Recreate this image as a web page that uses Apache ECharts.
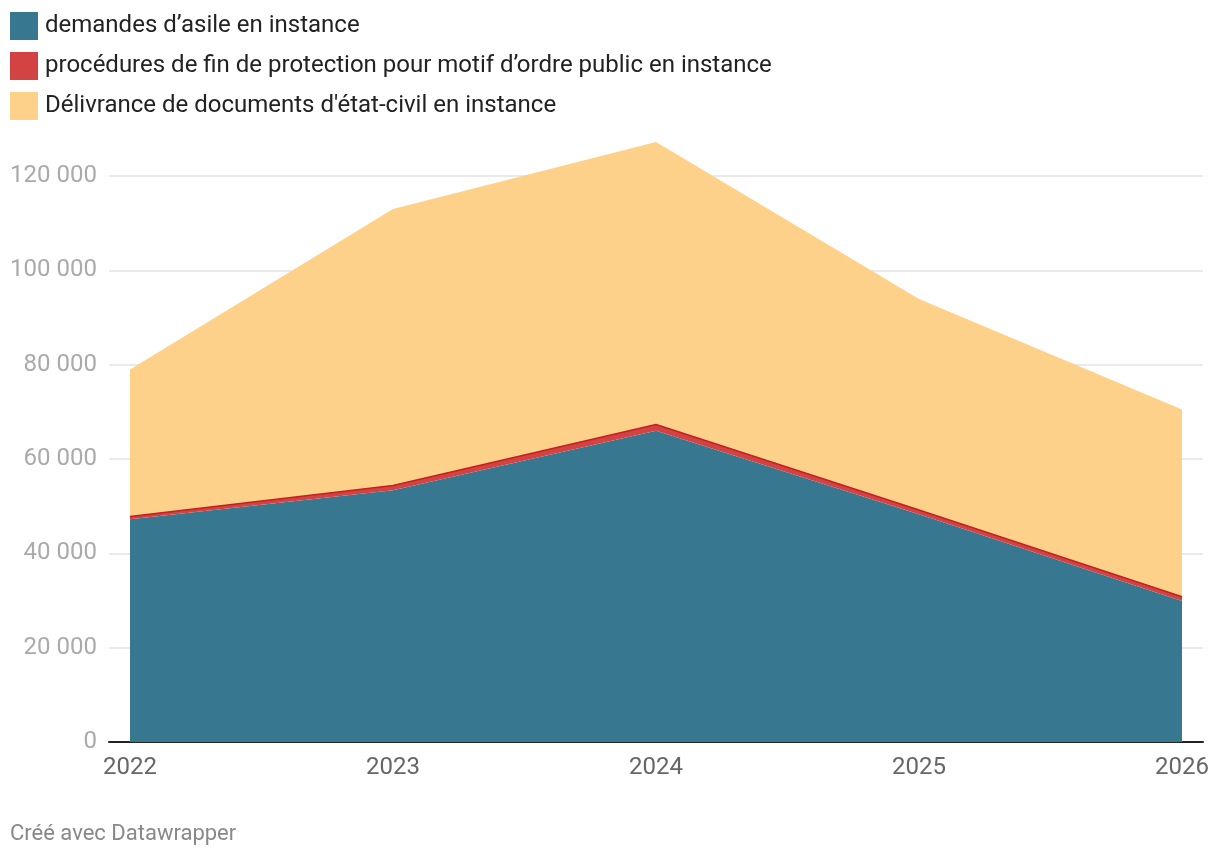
<!DOCTYPE html>
<html>
<head>
<meta charset="utf-8">
<script src="https://cdn.jsdelivr.net/npm/echarts@6/dist/echarts.min.js"></script>
<style>
html,body{margin:0;padding:0;background:#fff;}
#c{width:1220px;height:860px;}
</style>
</head>
<body>
<div id="c"></div>
<script>
const years = ['2022', '2023', '2024', '2025', '2026'];
const asile = [47200, 53400, 66000, 48300, 29900];
const finProtection = [600, 1000, 1300, 900, 900];
const etatCivil = [31200, 58600, 59900, 44700, 39700];
const yTicks = [0, 20000, 40000, 60000, 80000, 100000, 120000];

const names = [
  'demandes d\u2019asile en instance',
  'procédures de fin de protection pour motif d\u2019ordre public en instance',
  'Délivrance de documents d\'état-civil en instance'
];

const chart = echarts.init(document.getElementById('c'));
const font = 'Roboto, "Noto Sans", sans-serif';
const fmt = v => String(v).replace(/\B(?=(\d{3})+(?!\d))/g, ' ');

chart.setOption({
  animation: false,
  textStyle: { fontFamily: font },
  legend: {
    orient: 'vertical', left: 10, top: 12, padding: 0,
    itemWidth: 28, itemHeight: 28, itemGap: 12,
    icon: 'rect',
    textStyle: { fontSize: 24, color: '#222', fontFamily: font, padding: [0, 0, 0, 2] },
    data: names
  },
  graphic: [{
    type: 'text', left: 10, top: 823,
    style: { text: 'Créé avec Datawrapper', fontSize: 22, fill: '#888', fontFamily: font }
  }],
  grid: [
    { left: 109, right: 17, top: 176, bottom: 118 },
    { left: 130, right: 38, top: 176, bottom: 118 }
  ],
  xAxis: [
    { type: 'value', gridIndex: 0, min: 0, max: 1, axisLabel: { show: false }, axisTick: { show: false },
      splitLine: { show: false }, axisLine: { show: true, lineStyle: { color: '#222', width: 2 } } },
    { type: 'category', gridIndex: 1, data: years, boundaryGap: false,
      axisLine: { show: false }, axisTick: { show: false }, splitLine: { show: false },
      axisLabel: { color: '#666', fontSize: 24, margin: 14, fontFamily: font } }
  ],
  yAxis: [
    { type: 'value', gridIndex: 0, min: yTicks[0], max: yTicks[yTicks.length - 1], interval: 20000,
      axisLine: { show: false }, axisTick: { show: false },
      axisLabel: { color: '#aaa', fontSize: 24, margin: 12, formatter: fmt, fontFamily: font },
      splitLine: { lineStyle: { color: '#e3e3e3', width: 1.5 } } },
    { type: 'value', gridIndex: 1, min: yTicks[0], max: yTicks[yTicks.length - 1], interval: 20000,
      axisLine: { show: false }, axisTick: { show: false }, axisLabel: { show: false }, splitLine: { show: false } }
  ],
  series: [
    { name: names[0], type: 'line', xAxisIndex: 1, yAxisIndex: 1, stack: 's', data: asile,
      symbol: 'none', clip: false, z: 3,
      itemStyle: { color: '#37778f' },
      lineStyle: { width: 0 }, areaStyle: { color: '#37778f', opacity: 1 } },
    { name: names[1], type: 'line', xAxisIndex: 1, yAxisIndex: 1, stack: 's', data: finProtection,
      symbol: 'none', clip: false, z: 4,
      itemStyle: { color: '#d34343' },
      lineStyle: { width: 1.5, color: '#c41f22' }, areaStyle: { color: '#d34343', opacity: 1 } },
    { name: names[2], type: 'line', xAxisIndex: 1, yAxisIndex: 1, stack: 's', data: etatCivil,
      symbol: 'none', clip: false, z: 2,
      itemStyle: { color: '#fdd18a' },
      lineStyle: { width: 0 }, areaStyle: { color: '#fdd18a', opacity: 1 } }
  ]
});
</script>
</body>
</html>
